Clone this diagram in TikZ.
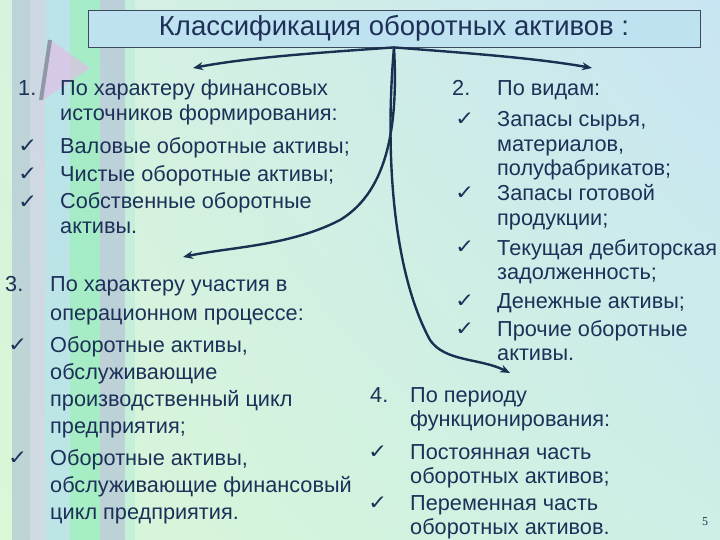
\documentclass[tikz,border=0pt]{standalone}
\usepackage{fontspec}
\setmainfont{Liberation Sans}
\newfontfamily\checkfont{DejaVu Sans}
\newfontfamily\pagefont{Liberation Serif}
\usetikzlibrary{positioning,arrows.meta,shadings}

\definecolor{ink}{HTML}{1C3058}
\definecolor{wire}{HTML}{1A3050}
\definecolor{bgA}{HTML}{D6F3DE}
\definecolor{bgB}{HTML}{C8E5F3}
\definecolor{bgC}{HTML}{DAF7D6}
\definecolor{bgD}{HTML}{CCEFE6}
\definecolor{boxfill}{HTML}{BFE2F0}
\definecolor{boxline}{HTML}{3E4A5C}

% lines of one item, first baseline on top
\newcommand{\lines}[1]{\begin{tabular}[t]{@{}l@{}}#1\end{tabular}}

\begin{document}
\begin{tikzpicture}[x=1pt,y=-1pt,
  txt/.style={text=ink,font=\fontsize{21.7}{24.5}\selectfont,inner sep=0pt,anchor=base west},
  wide/.style={txt,font=\fontsize{21.7}{27}\selectfont},
  tick/.style={text=ink,font=\checkfont\fontsize{20}{20}\selectfont,inner sep=0pt,anchor=base west,xscale=1.15},
  link/.style={draw=wire,line width=2.4pt,-{Stealth[length=10pt,width=8pt]}},
  band/.style={opacity=0.55}]

  \useasboundingbox (0,0) rectangle (720,540);

  % background
  \shade[upper left=bgA,upper right=bgB,lower left=bgC,lower right=bgD] (0,0) rectangle (720,540);
  \fill[band,fill={rgb,255:red,169;green,185;blue,211}] (12,0) rectangle (30,540);
  \fill[band,fill={rgb,255:red,201;green,195;blue,234}] (30,0) rectangle (45,540);
  \fill[band,fill={rgb,255:red,166;green,216;blue,242}] (45,0) rectangle (70,540);
  \fill[band,fill={rgb,255:red,126;green,232;blue,180}] (70,0) rectangle (100,540);
  \fill[band,fill={rgb,255:red,168;green,182;blue,212}] (100,0) rectangle (125,540);
  \fill[band,fill={rgb,255:red,184;green,236;blue,216}] (125,0) rectangle (135,540);
  \fill[fill={rgb,255:red,232;green,184;blue,232},opacity=0.6] (50,40) -- (90,68) -- (43,100) -- cycle;
  \draw[line width=4pt,color={rgb,255:red,144;green,152;blue,168}] (50,40) -- (41,100);

  % title
  \node[draw=boxline,fill=boxfill,line width=0.8pt,minimum width=612pt,minimum height=37pt,
        inner sep=0pt,text=ink,font=\fontsize{27.5}{30}\selectfont] (title) at (394,28.5)
        {Классификация оборотных активов :};

  % 1
  \node[txt] (num1) at (18,96) {1.};
  \node[txt] (head1) at (60,96) {\lines{По характеру финансовых\\источников формирования:}};
  \node[tick] (tk1a) at (18,153) {✓};
  \node[tick] (tk1b) at (18,181) {✓};
  \node[tick] (tk1c) at (18,208) {✓};
  \node[txt] (it1a) at (60,154) {Валовые оборотные активы;};
  \node[txt] (it1b) at (60,182) {Чистые оборотные активы;};
  \node[txt] (it1c) at (60,209) {\lines{Собственные оборотные\\активы.}};

  % 2
  \node[txt] (num2) at (452,96) {2.};
  \node[txt] (head2) at (497,96) {По видам:};
  \node[tick] (tk2a) at (455,126) {✓};
  \node[tick] (tk2b) at (455,200) {✓};
  \node[tick] (tk2c) at (455,254) {✓};
  \node[tick] (tk2d) at (455,307) {✓};
  \node[tick] (tk2e) at (455,335) {✓};
  \node[txt] (it2a) at (497,127) {\lines{Запасы сырья,\\материалов,\\полуфабрикатов;}};
  \node[txt] (it2b) at (497,201) {\lines{Запасы готовой\\продукции;}};
  \node[txt] (it2c) at (497,255) {\lines{Текущая дебиторская\\задолженность;}};
  \node[txt] (it2d) at (497,308) {Денежные активы;};
  \node[txt] (it2e) at (497,336) {\lines{Прочие оборотные\\активы.}};

  % 3
  \node[txt] (num3) at (5,291) {3.};
  \node[txt,font=\fontsize{21.7}{29}\selectfont] (head3) at (50,291) {\lines{По характеру участия в\\операционном процессе:}};
  \node[tick] (tk3a) at (8,351) {✓};
  \node[tick] (tk3b) at (8,464) {✓};
  \node[wide] (it3a) at (50,352) {\lines{Оборотные активы,\\обслуживающие\\производственный цикл\\предприятия;}};
  \node[wide] (it3b) at (50,465) {\lines{Оборотные активы,\\обслуживающие финансовый\\цикл предприятия.}};

  % 4
  \node[txt] (num4) at (370,402) {4.};
  \node[txt] (head4) at (410,402) {\lines{По периоду\\функционирования:}};
  \node[tick] (tk4a) at (368,458) {✓};
  \node[tick] (tk4b) at (368,509) {✓};
  \node[txt] (it4a) at (410,459) {\lines{Постоянная часть\\оборотных активов;}};
  \node[txt] (it4b) at (410,510) {\lines{Переменная часть\\оборотных активов.}};

  \node[text=ink,font=\pagefont\fontsize{12}{12}\selectfont,inner sep=0pt] (page) at (705,522) {5};

  % arrows
  \coordinate (tip1) at (193,68);
  \coordinate (tip2) at (592,68);
  \coordinate (tip3) at (183,257);
  \coordinate (tip4) at (510,373);
  \draw[link] (title.south) .. controls (330,52) and (250,57) .. (tip1);
  \draw[link] (title.south) .. controls (450,52) and (530,57) .. (tip2);
  \draw[link] (title.south) .. controls (398,120) and (390,190) .. (340,220)
                            .. controls (290,246) and (230,247) .. (tip3);
  \draw[link] (title.south) .. controls (385,150) and (392,270) .. (430,340)
                            .. controls (445,362) and (480,358) .. (tip4);
\end{tikzpicture}
\end{document}
